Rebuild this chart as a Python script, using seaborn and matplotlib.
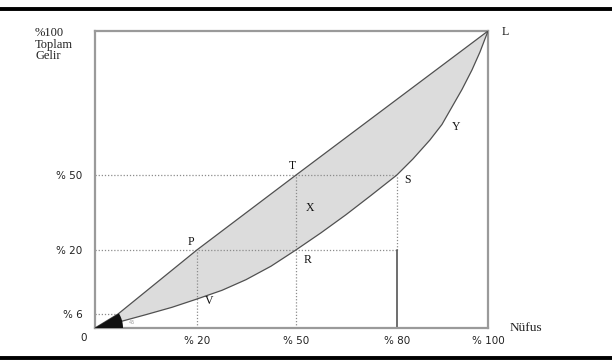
import numpy as np
import matplotlib
matplotlib.use("Agg")
import matplotlib.pyplot as plt
import seaborn as sns
import pandas as pd
from matplotlib.lines import Line2D

# ---------------- data (percent values) ----------------
equality_x = [0, 6, 20, 50, 100]
equality_y = [0, 6, 20, 50, 100]
lorenz_x = [0, 6.35, 10.96, 15.57, 20, 27.58, 34.85, 42.42, 50, 57.43, 64.85,
            72.28, 80, 83.52, 87.25, 89.89, 92.09, 94.29, 96.48, 98.24, 100]
lorenz_y = [0, 2.7, 5.74, 7.47, 9.28, 11.18, 13.5, 16.44, 20, 26.84, 34.08,
            41.8, 50, 55.56, 62.15, 67.53, 73.61, 79.69, 86.46, 92.71, 100]
x_tick_values = [20, 50, 80, 100]
x_tick_labels = ["% 20", "% 50", "% 80", "% 100"]
y_tick_values = [6, 20, 50]
y_tick_labels = ["% 6", "% 20", "% 50"]

# schematic (non-linear) axis: value -> axes fraction
x_knots = [-100, 0, 6, 20, 50, 80, 100, 200]
x_fracs = [-1.0, 0, 0.0585, 0.2595, 0.5115, 0.768, 1.0, 2.0]
y_knots = [-100, 0, 6, 20, 50, 100, 200]
y_fracs = [-1.0, 0, 0.047, 0.263, 0.515, 1.0, 2.0]


def fx(v):
    return np.interp(v, x_knots, x_fracs)


def ix(f):
    return np.interp(f, x_fracs, x_knots)


def fy(v):
    return np.interp(v, y_knots, y_fracs)


def iy(f):
    return np.interp(f, y_fracs, y_knots)


sns.set_style("white")
plt.rcParams["font.family"] = ["DejaVu Sans"]

W, H = 612, 361
fig = plt.figure(figsize=(W / 100, H / 100), dpi=100)
ax_l, ax_r, ax_t, ax_b = 95, 488, 31, 328
ax = fig.add_axes([ax_l / W, (H - ax_b) / H, (ax_r - ax_l) / W, (ax_b - ax_t) / H])
ax.set_xscale("function", functions=(fx, ix))
ax.set_yscale("function", functions=(fy, iy))
ax.set_xlim(0, 100)
ax.set_ylim(0, 100)

# shaded area between the two curves
ax.fill(np.r_[equality_x, lorenz_x[::-1]], np.r_[equality_y, lorenz_y[::-1]],
        color="#dcdcdc", lw=0, zorder=1)

# guide lines
dot = dict(color="#8c8c8c", lw=0.9, ls=(0, (1, 1.5)), zorder=2)
ax.plot([0, 6], [6, 6], **dot)
ax.plot([0, 80], [20, 20], **dot)
ax.plot([0, 80], [50, 50], **dot)
ax.plot([20, 20], [0, 20], **dot)
ax.plot([50, 50], [0, 50], **dot)
ax.plot([80, 80], [20, 50], **dot)
ax.plot([80, 80], [0, 20], color="#555555", lw=1.2, zorder=2)

# curves
df_eq = pd.DataFrame({"x": equality_x, "y": equality_y})
df_lz = pd.DataFrame({"x": lorenz_x, "y": lorenz_y})
sns.lineplot(data=df_eq, x="x", y="y", sort=False, color="#505050", lw=0.9, ax=ax, zorder=3)
sns.lineplot(data=df_lz, x="x", y="y", sort=False, color="#505050", lw=0.9, ax=ax, zorder=3)

# black angle marker at the origin
wpx, hpx = ax_r - ax_l, ax_b - ax_t
ang = np.arctan2(0.047 * hpx, 0.0585 * wpx)
th = np.linspace(0, ang, 30)
r = 28
wx = np.r_[0, r * np.cos(th) / wpx, 0]
wy = np.r_[0, r * np.sin(th) / hpx, 0]
ax.fill(wx, wy, color="#111111", transform=ax.transAxes, zorder=4, lw=0)
ax.text(34 / wpx, 5 / hpx, "45", transform=ax.transAxes, fontsize=3.5,
        color="#999999", va="center", ha="left")

# ticks
ax.set_xticks(x_tick_values)
ax.set_xticklabels(x_tick_labels)
ax.set_yticks(y_tick_values)
ax.set_yticklabels(y_tick_labels)
ax.xaxis.set_minor_locator(matplotlib.ticker.NullLocator())
ax.yaxis.set_minor_locator(matplotlib.ticker.NullLocator())
ax.tick_params(axis="x", length=0, pad=6, labelsize=7.5, labelcolor="#222222")
ax.tick_params(axis="y", length=0, pad=9, labelsize=7.5, labelcolor="#222222")
ax.set_xlabel("")
ax.set_ylabel("")
for s in ax.spines.values():
    s.set_color("#9a9a9a")
    s.set_linewidth(1.6)

# point labels
letter = dict(family="Liberation Serif", fontsize=8.5, color="#111111")
for lab, (px, py), (ox, oy) in [
    ("P", (20, 20), (-4.3, 5.8)),
    ("T", (50, 50), (-2.9, 6.5)),
    ("R", (50, 20), (8.6, -7.2)),
    ("S", (80, 50), (7.9, -3.6)),
    ("L", (100, 100), (12.2, -0.7)),
]:
    ax.annotate(lab, (px, py), xytext=(ox, oy), textcoords="offset points",
                ha="center", va="center", annotation_clip=False, **letter)
for lab, (px, py) in [("X", (54.2, 36.8)), ("V", (23.6, 8.8)), ("Y", (93, 66.7))]:
    ax.text(px, py, lab, ha="center", va="center", **letter)

# axis titles
serif = dict(family="Liberation Serif", color="#222222")
fig.text(35 / W, 1 - 27 / H, "%100\nToplam\nGelir", ha="left", va="top",
         fontsize=9, linespacing=0.95, **serif)
fig.text(510 / W, 1 - 328 / H, "Nüfus", ha="left", va="center", fontsize=9.5, **serif)
fig.text(84 / W, 1 - 338 / H, "0", ha="center", va="center", fontsize=7.5, color="#222222")

# thick black rules top and bottom
fig.add_artist(Line2D([0, 1], [1 - 9 / H, 1 - 9 / H], transform=fig.transFigure,
                      color="black", lw=2.8))
fig.add_artist(Line2D([0, 1], [1 - 358 / H, 1 - 358 / H], transform=fig.transFigure,
                      color="black", lw=2.8))

fig.savefig("out.png", dpi=100)
